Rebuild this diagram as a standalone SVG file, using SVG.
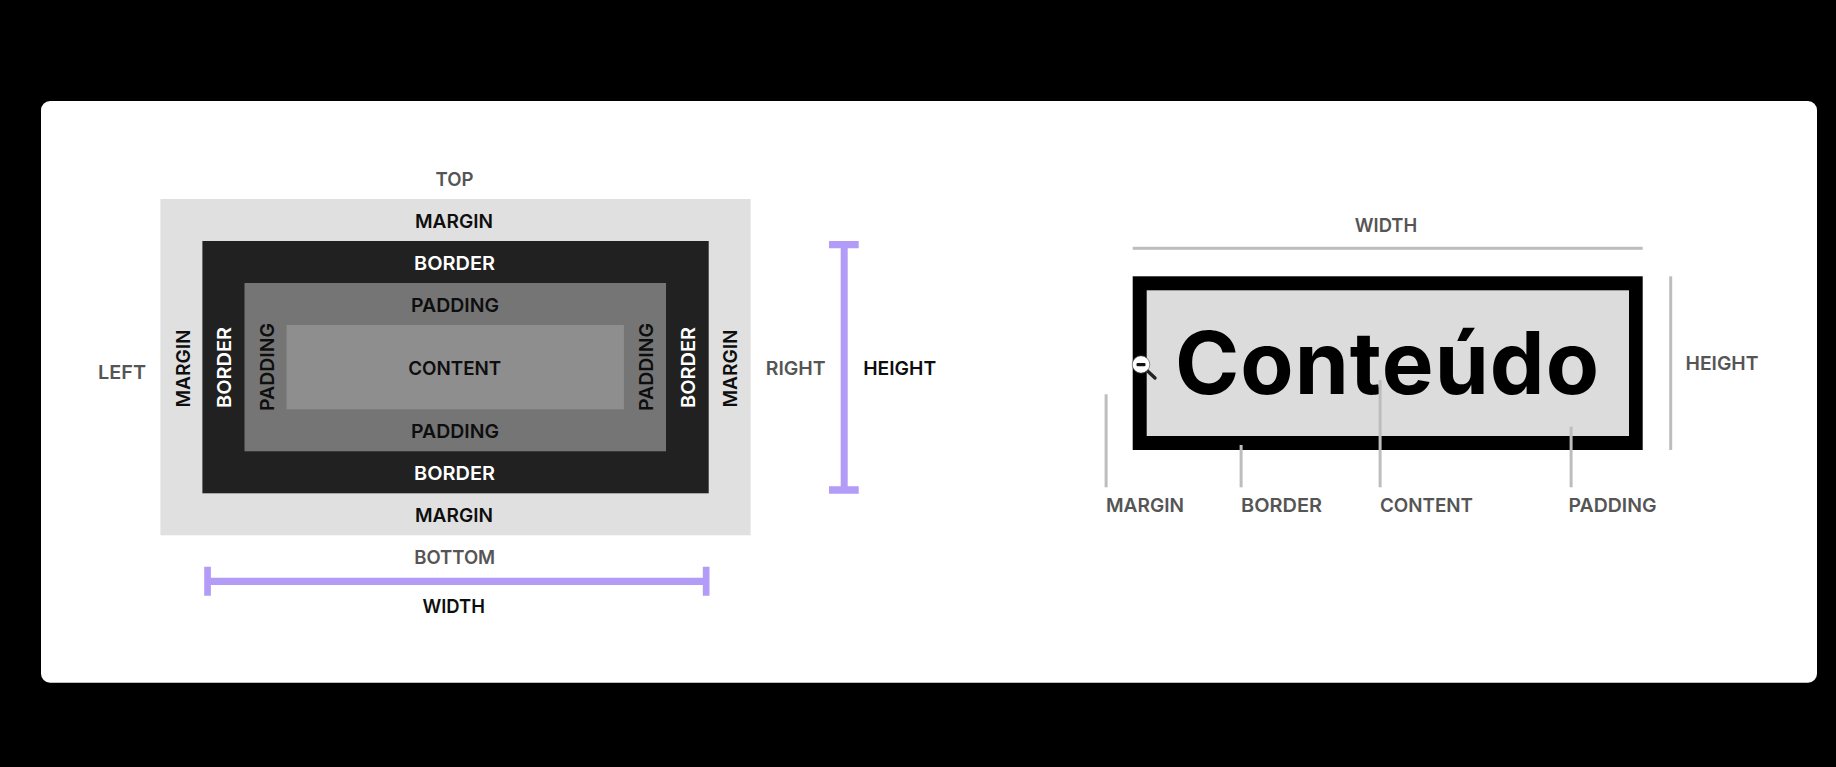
<svg xmlns="http://www.w3.org/2000/svg" width="1836" height="767" viewBox="0 0 1836 767">
<style>
text{font-family:Inter,Roboto,"Liberation Sans",sans-serif;font-weight:600;font-size:19.3px}
.m{text-anchor:middle}
.k{fill:#0e0e0e}.w{fill:#fff}.g{fill:#555}
.p{fill:#b39cf7}
.t{fill:#bdbdbd}
.big{font-size:87px;font-weight:650;fill:#000}
</style>
<rect width="1836" height="767" fill="#000"/>
<rect id="card" x="41" y="101" width="1776" height="581.7" rx="9" fill="#fff"/>
<g id="box-model">
<g id="margin-box"><rect x="160.4" y="199" width="590.2" height="336.3" fill="#e0e0e0"/>
<text class="m k" x="454" y="227.6" textLength="78" lengthAdjust="spacingAndGlyphs">MARGIN</text><text class="m k" x="454" y="521.8" textLength="78" lengthAdjust="spacingAndGlyphs">MARGIN</text>
<text class="m k" transform="translate(190 368.5) rotate(-90)" textLength="78" lengthAdjust="spacingAndGlyphs">MARGIN</text><text class="m k" transform="translate(737 368.5) rotate(-90)" textLength="78" lengthAdjust="spacingAndGlyphs">MARGIN</text></g>
<g id="border-box"><rect x="202.4" y="241" width="506.3" height="252.3" fill="#212121"/>
<text class="m w" x="454.5" y="269.9" textLength="81" lengthAdjust="spacingAndGlyphs">BORDER</text><text class="m w" x="454.5" y="479.9" textLength="81" lengthAdjust="spacingAndGlyphs">BORDER</text>
<text class="m w" transform="translate(231.3 367.5) rotate(-90)" textLength="81" lengthAdjust="spacingAndGlyphs">BORDER</text><text class="m w" transform="translate(695 367.5) rotate(-90)" textLength="81" lengthAdjust="spacingAndGlyphs">BORDER</text></g>
<g id="padding-box"><rect x="244.5" y="283" width="421.5" height="168.3" fill="#757575"/>
<text class="m k" x="455" y="311.9" textLength="88" lengthAdjust="spacingAndGlyphs">PADDING</text><text class="m k" x="455" y="437.9" textLength="88" lengthAdjust="spacingAndGlyphs">PADDING</text>
<text class="m k" transform="translate(273.5 367) rotate(-90)" textLength="88" lengthAdjust="spacingAndGlyphs">PADDING</text><text class="m k" transform="translate(652.7 367) rotate(-90)" textLength="88" lengthAdjust="spacingAndGlyphs">PADDING</text></g>
<g id="content-box"><rect x="286.6" y="325" width="337.3" height="84.3" fill="#8e8e8e"/>
<text class="m k" x="454.7" y="374.9" textLength="93" lengthAdjust="spacingAndGlyphs">CONTENT</text></g>
</g>
<g id="side-labels">
<text class="m g" x="454.5" y="186" textLength="38" lengthAdjust="spacingAndGlyphs">TOP</text>
<text class="m g" x="122" y="379" textLength="48" lengthAdjust="spacingAndGlyphs">LEFT</text>
<text class="m g" x="795.7" y="374.9" textLength="60" lengthAdjust="spacingAndGlyphs">RIGHT</text>
<text class="m g" x="454.7" y="563.6" textLength="81" lengthAdjust="spacingAndGlyphs">BOTTOM</text>
</g>
<g id="width-dimension">
<path class="p" d="M204.2 566.7h6.7v11h491.9v-11h6.7v29h-6.7v-10.7h-491.9v10.7h-6.7z"/>
<text class="m k" x="453.7" y="613" textLength="62.5" lengthAdjust="spacingAndGlyphs">WIDTH</text>
</g>
<g id="height-dimension">
<path class="p" d="M829 241h29.7v7.3h-11v238h11v7.4h-29.7v-7.4h11.7v-238h-11.7z"/>
<text class="m k" x="899.7" y="374.9" textLength="73" lengthAdjust="spacingAndGlyphs">HEIGHT</text>
</g>
<g id="content-example">
<rect x="1132.7" y="276.3" width="510" height="173.7" fill="#000"/>
<rect x="1146.7" y="290.3" width="482.3" height="145.7" fill="#dcdcdc"/>
<text class="big" x="1175" y="394" textLength="424" lengthAdjust="spacing">Conteúdo</text>
</g>
<g id="connectors">
<rect class="t" x="1132.7" y="246.8" width="510" height="3"/>
<rect class="t" x="1669.2" y="276.3" width="3" height="173.7"/>
<rect class="t" x="1104.6" y="394.3" width="3" height="93"/>
<rect class="t" x="1239.6" y="445" width="3" height="42.3"/>
<rect class="t" x="1378.6" y="380" width="3" height="107.3"/>
<rect class="t" x="1569.6" y="426.7" width="3" height="60.6"/>
</g>
<g id="example-labels">
<text class="m g" x="1386" y="231.7" textLength="62.5" lengthAdjust="spacingAndGlyphs">WIDTH</text>
<text class="m g" x="1722" y="370.4" textLength="73" lengthAdjust="spacingAndGlyphs">HEIGHT</text>
<text class="g" x="1106" y="512" textLength="78" lengthAdjust="spacingAndGlyphs">MARGIN</text>
<text class="g" x="1241" y="512" textLength="81" lengthAdjust="spacingAndGlyphs">BORDER</text>
<text class="g" x="1380" y="512" textLength="93" lengthAdjust="spacingAndGlyphs">CONTENT</text>
<text class="g" x="1568.5" y="512" textLength="88" lengthAdjust="spacingAndGlyphs">PADDING</text>
</g>
<g id="zoom-cursor">
<line x1="1147" y1="370.5" x2="1155" y2="378" stroke="#222" stroke-width="3.4" stroke-linecap="round"/>
<circle cx="1141" cy="364.5" r="7.5" fill="#fff" stroke="#fff" stroke-width="2"/>
<circle cx="1141" cy="364.5" r="8.8" fill="none" stroke="#555" stroke-width=".6"/>
<rect x="1136.5" y="363" width="9" height="3.2" rx="1" fill="#111"/>
</g>
</svg>
